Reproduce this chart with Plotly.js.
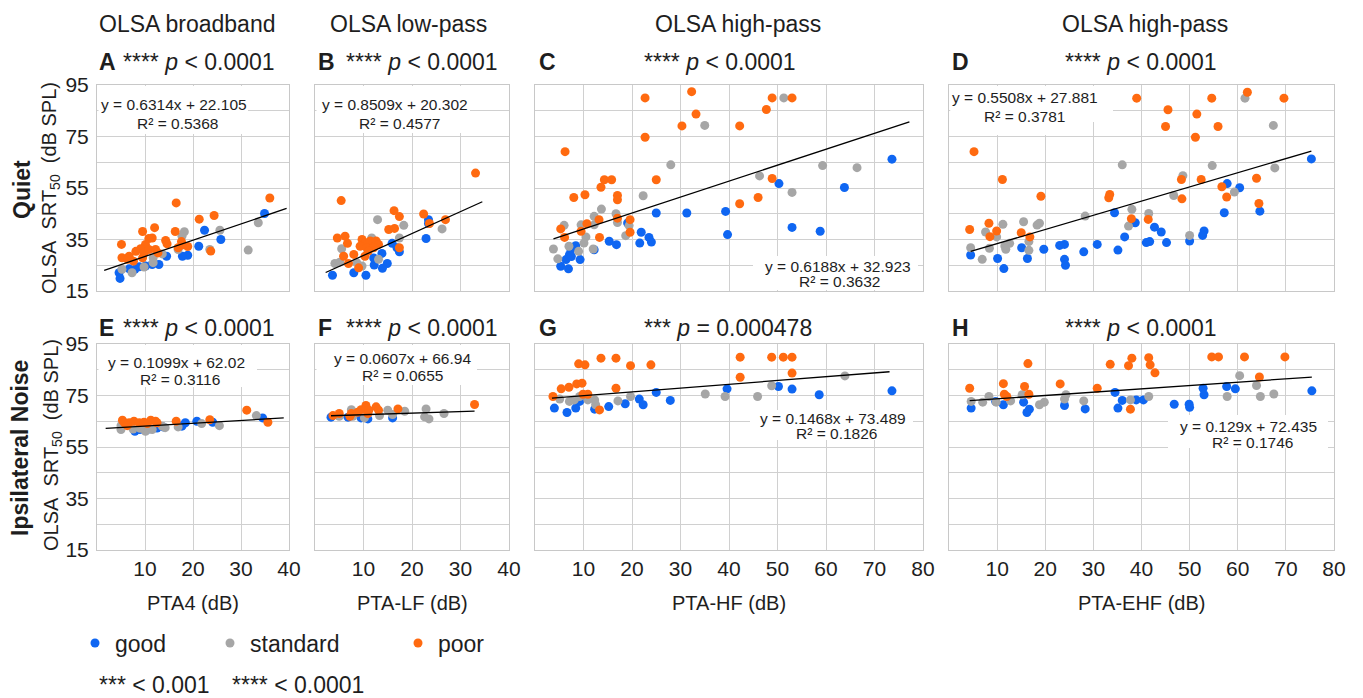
<!DOCTYPE html>
<html><head><meta charset="utf-8">
<script src="https://cdn.plot.ly/plotly-3.0.1.min.js"></script>
<style>html,body{margin:0;padding:0;background:#fff}#chart{width:1363px;height:698px}</style>
</head><body><div id="chart"></div>
<script>
// ---------- DATA ----------
const groups = ['good', 'standard', 'poor'];
const columnTitles = ['OLSA broadband', 'OLSA low-pass', 'OLSA high-pass', 'OLSA high-pass'];
const xAxisTitles = ['PTA4 (dB)', 'PTA-LF (dB)', 'PTA-HF (dB)', 'PTA-EHF (dB)'];
const panelLetters = ['A', 'B', 'C', 'D', 'E', 'F', 'G', 'H'];
const panelStats = ['**** <i>p</i> &lt; 0.0001', '**** <i>p</i> &lt; 0.0001', '**** <i>p</i> &lt; 0.0001', '**** <i>p</i> &lt; 0.0001',
                    '**** <i>p</i> &lt; 0.0001', '**** <i>p</i> &lt; 0.0001', '*** <i>p</i> = 0.000478', '**** <i>p</i> &lt; 0.0001'];
const fitSlope = [0.6314, 0.8509, 0.6188, 0.5508, 0.1099, 0.0607, 0.1468, 0.129];
const fitIntercept = [22.105, 20.302, 32.923, 27.881, 62.02, 66.94, 73.489, 72.435];
const fitR2 = ['0.5368', '0.4577', '0.3632', '0.3781', '0.3116', '0.0655', '0.1826', '0.1746'];
const fitXmin = [1.5, 2.2, 3.8, 4.5, 1.8, 3.3, 3.5, 4.3];
const fitXmax = [39.5, 34.5, 77.2, 75.3, 38.9, 32.9, 73.1, 75.4];
const yTickVals = [15, 35, 55, 75, 95];
const xTicksNarrow = [10, 20, 30, 40];
const xTicksWide = [10, 20, 30, 40, 50, 60, 70, 80];

// Panel A (Quiet, PTA4)
const A_good_x = [34.9, 22.4, 25.8, 21.2, 18.9, 17.8, 14.5, 12.9, 11.5, 10.1, 8.8, 6.7, 4.6, 4.8, 7.9];
const A_good_y = [45.1, 38.6, 35.0, 32.4, 28.9, 28.5, 28.5, 25.3, 25.3, 24.7, 24.4, 23.6, 22.1, 19.9, 23.4];
const A_standard_x = [33.6, 31.5, 25.6, 18.2, 17.7, 23.5, 16.9, 11.7, 9.8, 7.3, 5.2, 13.6, 11.7];
const A_standard_y = [41.5, 30.9, 38.6, 38.0, 36.3, 31.1, 31.1, 27.9, 24.3, 22.1, 23.4, 29.4, 26.0];
const A_poor_x = [36.0, 16.5, 24.4, 21.3, 12.0, 9.5, 16.3, 5.1, 10.8, 11.5, 14.3, 14.6, 17.6, 18.9, 23.7, 10.1, 9.1, 8.1, 9.8, 10.8, 12.2, 12.7, 6.7, 5.2, 6.4, 7.6, 9.5, 16.9, 17.8];
const A_poor_y = [51.1, 49.2, 44.3, 42.9, 39.6, 38.1, 38.1, 33.1, 35.4, 35.6, 34.6, 33.3, 34.2, 32.3, 30.5, 33.1, 31.4, 30.4, 29.8, 31.1, 31.1, 29.8, 28.5, 27.9, 27.3, 26.6, 27.9, 31.8, 32.9];
// Panel B (Quiet, PTA-LF)
const B_good_x = [23.4, 23.4, 22.9, 15.9, 16.9, 17.4, 13.8, 14.9, 13.9, 12.2, 8.0, 10.5, 3.6, 12.1];
const B_good_y = [42.7, 41.2, 35.4, 33.5, 31.8, 30.2, 29.6, 25.7, 23.8, 25.1, 22.1, 21.1, 21.1, 27.8];
const B_standard_x = [12.9, 18.3, 26.2, 17.4, 5.5, 11.7, 13.1, 4.1, 5.1, 8.6, 9.7];
const B_standard_y = [42.7, 40.5, 39.1, 35.6, 31.4, 35.6, 27.3, 25.7, 26.2, 26.0, 24.7];
const B_poor_x = [33.1, 5.4, 16.3, 17.4, 22.4, 26.9, 23.6, 15.2, 16.4, 4.6, 6.2, 6.7, 9.7, 10.3, 11.4, 12.6, 13.1, 9.3, 10.7, 12.1, 17.4, 5.9, 8.0, 10.3, 6.9, 9.0, 11.0];
const B_poor_y = [60.8, 50.1, 46.2, 43.9, 44.9, 42.7, 41.2, 38.9, 39.3, 35.6, 36.3, 33.5, 35.0, 33.7, 34.4, 34.4, 33.1, 32.4, 31.8, 31.8, 31.8, 28.5, 29.2, 28.5, 25.7, 24.0, 30.5];
// Panel C (Quiet, PTA-HF)
const C_good_x = [73.6, 50.3, 63.8, 25.0, 31.3, 39.3, 53.0, 58.8, 39.7, 21.9, 23.5, 24.0, 21.6, 15.3, 16.8, 19.1, 12.2, 8.4, 7.4, 7.1, 6.4, 9.3, 5.3, 6.9, 7.5];
const C_good_y = [66.2, 56.7, 55.2, 45.3, 45.3, 45.9, 39.7, 38.2, 36.9, 37.8, 35.8, 34.0, 33.6, 34.3, 33.0, 41.4, 31.0, 32.6, 31.0, 29.1, 27.2, 27.2, 24.6, 23.6, 28.4];
const C_standard_x = [51.3, 35.0, 28.0, 59.3, 66.4, 46.3, 53.0, 22.3, 13.7, 12.2, 16.7, 17.0, 19.4, 6.0, 9.5, 12.2, 18.7, 10.5, 10.1, 9.0, 7.0, 3.8, 4.7, 12.0];
const C_standard_y = [90.0, 79.3, 64.0, 63.7, 62.9, 59.7, 53.3, 52.0, 46.8, 44.0, 45.0, 41.6, 40.4, 40.5, 40.7, 40.7, 36.5, 36.0, 33.6, 30.4, 32.4, 31.3, 27.5, 31.3];
const C_poor_x = [32.3, 22.7, 48.9, 53.0, 33.2, 47.7, 30.3, 42.2, 22.7, 6.2, 14.3, 15.8, 25.0, 13.6, 48.9, 8.0, 10.3, 17.0, 17.0, 46.0, 42.2, 13.2, 17.0, 19.6, 10.7, 5.3, 9.5, 19.6, 6.1, 13.3];
const C_poor_y = [92.4, 90.0, 90.0, 90.0, 83.7, 85.5, 79.1, 79.1, 74.7, 69.1, 58.2, 58.2, 58.2, 55.3, 58.7, 51.3, 52.4, 52.1, 50.4, 51.3, 48.9, 42.7, 43.3, 42.7, 41.1, 39.1, 38.2, 37.8, 35.8, 35.8];
// Panel D (Quiet, PTA-EHF)
const D_good_x = [75.3, 57.8, 60.4, 57.2, 64.6, 34.4, 38.7, 42.7, 44.1, 36.5, 53.0, 52.7, 41.0, 41.7, 45.2, 50.0, 30.8, 35.1, 28.0, 23.0, 24.0, 24.0, 24.2, 19.7, 16.3, 15.1, 10.1, 11.4, 4.5];
const D_good_y = [66.3, 56.7, 55.1, 45.4, 46.0, 45.4, 41.5, 39.8, 37.9, 36.0, 38.3, 36.6, 33.8, 34.2, 33.8, 34.4, 33.1, 30.9, 30.2, 32.7, 33.1, 27.3, 25.0, 31.2, 27.6, 31.8, 27.6, 23.7, 29.0];
const D_standard_x = [61.5, 67.4, 67.7, 54.7, 36.0, 48.6, 46.7, 59.3, 38.0, 37.3, 41.5, 28.3, 50.0, 11.2, 15.5, 18.3, 18.8, 7.6, 9.9, 8.4, 4.5, 6.9, 11.6, 12.6, 11.8, 16.6, 16.6];
const D_standard_y = [89.9, 79.3, 62.8, 63.7, 64.0, 59.8, 52.1, 53.4, 46.7, 40.2, 45.1, 44.1, 36.6, 40.9, 41.9, 40.6, 41.3, 37.9, 36.0, 31.6, 31.8, 27.3, 32.5, 33.5, 31.2, 34.2, 30.8];
const D_poor_x = [62.0, 39.0, 54.6, 69.6, 45.5, 51.5, 45.0, 55.9, 51.2, 5.2, 11.1, 19.1, 48.3, 52.4, 63.9, 33.4, 33.2, 56.7, 57.7, 48.4, 64.4, 37.9, 41.4, 4.3, 8.3, 9.9, 8.5, 15.0, 16.8];
const D_poor_y = [92.2, 89.9, 89.9, 89.9, 85.4, 83.7, 78.9, 78.9, 74.7, 69.1, 58.3, 51.8, 58.3, 58.3, 58.8, 52.5, 51.2, 55.5, 51.5, 50.8, 49.0, 43.1, 42.8, 38.9, 41.3, 38.3, 36.1, 37.6, 36.0];
// Panel E (Ipsilateral noise, PTA4)
const E_good_x = [34.5, 24.1, 20.8, 18.4, 17.7, 12.5, 7.9, 8.9, 10.8, 13.8];
const E_good_y = [66.3, 64.6, 65.0, 64.4, 63.1, 62.4, 61.1, 61.8, 62.0, 62.8];
const E_standard_x = [33.2, 25.5, 21.8, 16.9, 13.6, 10.1, 11.5, 5.0, 5.0, 7.5, 9.0, 14.2];
const E_standard_y = [67.2, 63.3, 64.1, 62.8, 63.1, 61.1, 61.8, 61.8, 63.3, 62.0, 62.3, 62.5];
const E_poor_x = [31.2, 35.6, 23.5, 16.5, 5.3, 5.7, 6.7, 7.7, 8.8, 9.8, 11.2, 12.2, 12.5, 10.5, 6.3];
const E_poor_y = [69.3, 64.6, 65.6, 65.0, 65.4, 64.4, 64.4, 65.0, 64.4, 64.6, 65.4, 65.0, 64.4, 64.1, 63.3];
// Panel F (Ipsilateral noise, PTA-LF)
const F_good_x = [3.3, 9.5, 10.9, 16.0, 6.8];
const F_good_y = [66.6, 66.3, 65.9, 66.3, 66.6];
const F_standard_x = [22.9, 26.6, 23.5, 22.6, 18.5, 15.0, 7.5, 7.8, 10.2, 13.3, 16.0, 5.0];
const F_standard_y = [69.8, 68.0, 65.9, 66.7, 68.9, 69.3, 69.5, 66.9, 66.3, 67.2, 67.6, 66.9];
const F_poor_x = [32.9, 17.1, 10.5, 12.6, 9.5, 11.1, 13.1, 7.5, 5.0, 3.7, 7.2, 10.9, 8.8];
const F_poor_y = [71.5, 69.8, 71.1, 70.6, 69.5, 69.3, 69.3, 68.0, 68.0, 67.2, 66.9, 68.0, 68.5];
// Panel G (Ipsilateral noise, PTA-HF)
const G_good_x = [73.6, 50.2, 53.0, 39.6, 58.6, 25.0, 27.9, 21.5, 22.3, 18.6, 15.2, 12.3, 8.4, 6.6, 4.0, 9.2];
const G_good_y = [76.8, 78.5, 77.5, 77.6, 75.3, 76.2, 73.1, 73.6, 71.4, 71.8, 70.7, 69.7, 70.1, 68.4, 70.1, 72.7];
const G_standard_x = [63.9, 48.8, 35.1, 39.2, 45.9, 19.7, 17.1, 5.1, 7.1, 8.1, 9.2, 10.9, 12.3, 12.5];
const G_standard_y = [82.6, 78.8, 75.6, 74.6, 74.6, 74.6, 72.9, 73.6, 72.7, 73.3, 74.6, 73.3, 73.3, 71.4];
const G_poor_x = [42.3, 48.8, 51.2, 53.0, 13.6, 16.7, 9.0, 10.3, 19.7, 23.9, 42.3, 53.0, 8.6, 9.7, 7.0, 5.4, 16.7, 3.7, 9.9, 10.9, 13.3];
const G_poor_y = [89.9, 89.9, 89.9, 89.9, 89.5, 89.5, 87.3, 86.9, 86.6, 86.9, 82.1, 83.7, 79.5, 79.8, 78.2, 77.6, 77.8, 74.6, 75.5, 75.5, 69.4];
// Panel H (Ipsilateral noise, PTA-EHF)
const H_good_x = [75.4, 59.5, 57.7, 52.8, 53.0, 34.5, 36.0, 38.9, 40.4, 35.1, 46.8, 49.9, 50.0, 24.0, 28.3, 15.5, 16.7, 16.2, 11.3, 9.7, 4.6];
const H_good_y = [76.8, 77.6, 78.5, 77.8, 75.3, 76.2, 73.1, 73.3, 73.3, 70.1, 71.6, 71.6, 70.4, 71.1, 69.8, 72.4, 69.7, 68.4, 71.4, 72.7, 70.1];
const H_standard_x = [60.4, 63.9, 67.5, 64.7, 57.8, 41.5, 37.7, 28.0, 24.3, 24.0, 19.8, 18.8, 15.2, 12.8, 8.3, 7.0, 4.6, 9.8];
const H_standard_y = [82.7, 78.9, 75.6, 74.6, 74.6, 74.6, 73.3, 72.9, 75.3, 73.6, 72.4, 71.4, 75.3, 72.9, 74.6, 72.4, 72.7, 72.4];
const H_poor_x = [54.6, 56.0, 61.4, 69.8, 38.0, 41.5, 33.5, 37.3, 41.8, 42.8, 16.4, 64.5, 11.3, 15.7, 23.1, 30.8, 4.3, 11.5, 16.6, 12.0, 37.7];
const H_poor_y = [90.0, 90.0, 90.0, 90.0, 89.5, 89.7, 87.1, 86.6, 86.9, 83.8, 87.4, 82.2, 79.6, 78.5, 79.5, 77.8, 77.8, 75.5, 75.5, 74.6, 69.7];

// ---------- BUILD ----------
const panelData = [
  [[A_good_x, A_good_y], [A_standard_x, A_standard_y], [A_poor_x, A_poor_y]],
  [[B_good_x, B_good_y], [B_standard_x, B_standard_y], [B_poor_x, B_poor_y]],
  [[C_good_x, C_good_y], [C_standard_x, C_standard_y], [C_poor_x, C_poor_y]],
  [[D_good_x, D_good_y], [D_standard_x, D_standard_y], [D_poor_x, D_poor_y]],
  [[E_good_x, E_good_y], [E_standard_x, E_standard_y], [E_poor_x, E_poor_y]],
  [[F_good_x, F_good_y], [F_standard_x, F_standard_y], [F_poor_x, F_poor_y]],
  [[G_good_x, G_good_y], [G_standard_x, G_standard_y], [G_poor_x, G_poor_y]],
  [[H_good_x, H_good_y], [H_standard_x, H_standard_y], [H_poor_x, H_poor_y]]
];

const W = 1363, H = 698;
const px = v => v / W, py = v => 1 - v / H;
const FONT = 'Liberation Sans, Arial, Helvetica, sans-serif';
const TXT = '#1e1e1e';
const GRID = '#d0d0d0';
const colors = {good: '#0f66f2', standard: '#a6a6a6', poor: '#ff6a10'};
const legendIds = {good: 'legend', standard: 'legend2', poor: 'legend3'};

// pixel geometry of the panels
const colX = [[97, 289], [315, 509], [535, 923], [949, 1334]];
const rowY = [[85, 291], [344, 550]];

const traces = [];
const layout = {
  width: W, height: H, margin: {l: 0, r: 0, t: 0, b: 0},
  paper_bgcolor: '#fff', plot_bgcolor: '#fff',
  font: {family: FONT, color: TXT},
  annotations: [], shapes: [],
  showlegend: true
};

const axSuffix = i => (i === 0 ? '' : String(i + 1));

panelData.forEach((pd, i) => {
  const col = i % 4, row = Math.floor(i / 4);
  const s = axSuffix(i);
  const xa = 'x' + s, ya = 'y' + s;
  const wide = col >= 2;
  layout['xaxis' + s] = {
    domain: [px(colX[col][0]), px(colX[col][1])],
    anchor: ya, range: wide ? [0, 80] : [0, 40],
    tickmode: 'array', tickvals: wide ? xTicksWide : xTicksNarrow,
    showticklabels: row === 1, ticks: '', ticklabelstandoff: 0,
    tickfont: {size: 21, color: TXT, family: FONT},
    showgrid: true, gridcolor: GRID, gridwidth: 1,
    zeroline: false, showline: true, mirror: true, linecolor: '#c8c8c8', linewidth: 1,
    fixedrange: true
  };
  layout['yaxis' + s] = {
    domain: [py(rowY[row][1]), py(rowY[row][0])],
    anchor: xa, range: [15, 95],
    tickmode: 'array', tickvals: yTickVals,
    minor: {tickmode: 'linear', tick0: 15, dtick: 10, showgrid: true, gridcolor: GRID, gridwidth: 1, ticks: ''},
    showticklabels: col === 0, ticks: '', ticklabelstandoff: 3,
    tickfont: {size: 21, color: TXT, family: FONT},
    showgrid: true, gridcolor: GRID, gridwidth: 1,
    zeroline: false, showline: true, mirror: true, linecolor: '#c8c8c8', linewidth: 1,
    fixedrange: true
  };
  pd.forEach((g, gi) => {
    const name = groups[gi];
    traces.push({
      type: 'scatter', mode: 'markers', x: g[0], y: g[1], xaxis: xa, yaxis: ya,
      name: name, legend: legendIds[name], showlegend: i === 0,
      marker: {color: colors[name], size: 9, line: {width: 0}},
      hoverinfo: 'x+y'
    });
  });
  const fx = [fitXmin[i], fitXmax[i]];
  traces.push({
    type: 'scatter', mode: 'lines', x: fx, y: fx.map(v => fitSlope[i] * v + fitIntercept[i]),
    xaxis: xa, yaxis: ya, showlegend: false, line: {color: '#000', width: 1.3}, hoverinfo: 'skip'
  });
});

function ann(text, x, y, o) {
  o = o || {};
  return Object.assign({
    xref: 'paper', yref: 'paper', x: px(x), y: py(y), text: text, showarrow: false,
    xanchor: 'center', yanchor: 'middle',
    font: {family: FONT, size: o.size || 23, color: TXT}
  }, o.extra || {});
}

// white label boxes (Excel text boxes hiding the grid), in pixels
function labelBox(xa, xb, ya, yb) {
  layout.shapes.push({
    type: 'rect', layer: 'above', xref: 'paper', yref: 'paper',
    x0: px(xa), x1: px(xb), y0: py(yb), y1: py(ya),
    fillcolor: '#ffffff', line: {width: 0}
  });
}
labelBox(98.5, 248, 86, 134);
labelBox(316.5, 470, 86, 133);
labelBox(753, 918, 256, 290);
labelBox(950.5, 1113, 86, 122);
labelBox(950.5, 1086, 86, 135);
labelBox(98.5, 257, 345, 387);
labelBox(316.5, 477, 345, 385);
labelBox(750, 913, 410, 440);
labelBox(1168, 1328, 415, 448);

// column headers
const headerX = [187, 408, 738, 1145];
columnTitles.forEach((t, c) => layout.annotations.push(ann(t, headerX[c], 24, {size: 23})));

// panel letters + statistics
const letterX = [97, 316, 537, 950, 97, 316, 537, 950];
const statX = [121, 344, 642, 1063, 121, 344, 642, 1063];
panelLetters.forEach((L, i) => {
  const yy = i < 4 ? 62 : 328;
  layout.annotations.push(ann('<b>' + L + '</b>', letterX[i], yy, {size: 23, extra: {xanchor: 'left'}}));
  layout.annotations.push(ann(panelStats[i], statX[i], yy, {size: 23, extra: {xanchor: 'left'}}));
});

// regression equations
const eqPos = [[174, 104, 177, 124], [395, 104, 399, 124], [838, 266, 839, 281], [1025, 97, 1024, 116],
               [176, 362, 180, 379], [402, 358, 402, 375], [833, 418, 837, 433], [1248, 426, 1252, 443]];
panelLetters.forEach((L, i) => {
  const p = eqPos[i];
  const eq = 'y = ' + fitSlope[i] + 'x + ' + fitIntercept[i];
  layout.annotations.push(ann(eq, p[0], p[1], {size: 15.5}));
  layout.annotations.push(ann('R² = ' + fitR2[i], p[2], p[3], {size: 15.5}));
});

// row labels
layout.annotations.push(ann('<b>Quiet</b>', 22, 190, {size: 23, extra: {textangle: -90}}));
layout.annotations.push(ann('<b>Ipsilateral Noise</b>', 20, 448, {size: 23, extra: {textangle: -90}}));
const yTitle = 'OLSA&nbsp; SRT<sub>50</sub>&nbsp; (dB SPL)';
layout.annotations.push(ann(yTitle, 50, 188, {size: 20, extra: {textangle: -90}}));
layout.annotations.push(ann(yTitle, 53, 445, {size: 20, extra: {textangle: -90}}));

// x axis titles
const xTitleX = [193, 412, 729, 1141];
xAxisTitles.forEach((t, c) => layout.annotations.push(ann(t, xTitleX[c], 603, {size: 20})));

// significance key
layout.annotations.push(ann('*** &lt; 0.001', 97, 685, {size: 23, extra: {xanchor: 'left'}}));
layout.annotations.push(ann('**** &lt; 0.0001', 230, 685, {size: 23, extra: {xanchor: 'left'}}));

// three independent legends
const legBase = {orientation: 'h', yanchor: 'middle', xanchor: 'left', bgcolor: 'rgba(0,0,0,0)',
                 font: {family: FONT, size: 23, color: TXT}, itemwidth: 30, borderwidth: 0};
layout.legend = Object.assign({}, legBase, {x: px(75), y: py(643)});
layout.legend2 = Object.assign({}, legBase, {x: px(210), y: py(643)});
layout.legend3 = Object.assign({}, legBase, {x: px(398), y: py(643)});

Plotly.newPlot('chart', traces, layout, {displayModeBar: false});
</script></body></html>
